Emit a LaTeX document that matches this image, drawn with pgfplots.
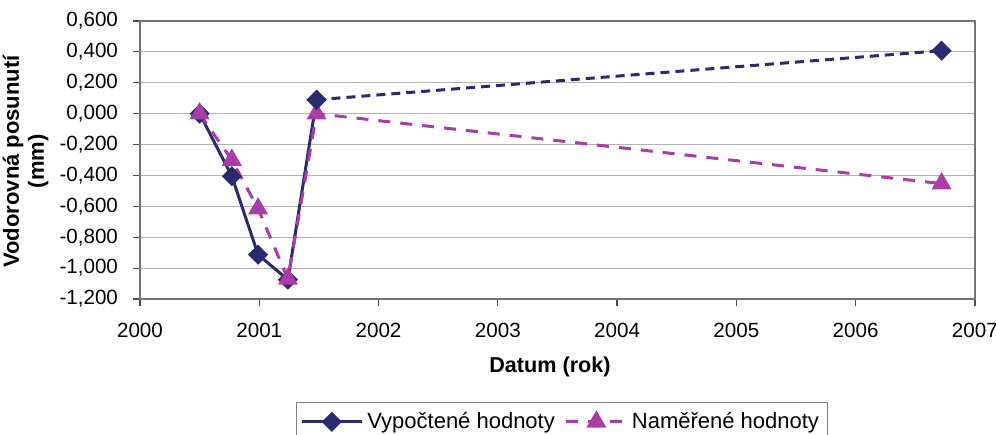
\documentclass[border=0pt]{standalone}
\usepackage{pgfplots}
\pgfplotsset{compat=1.18}
\usepackage{fontspec}
\setmainfont{Liberation Sans}
\definecolor{navyc}{RGB}{42,42,112}
\definecolor{magc}{RGB}{170,60,170}
\begin{document}
\begin{tikzpicture}
\path[use as bounding box] (0pt,0pt) rectangle (498pt,217pt);
\begin{axis}[
  at={(70pt,67.5pt)}, anchor=south west,
  scale only axis, width=417.5pt, height=139pt,
  xmin=2000, xmax=2007, ymin=-1.2, ymax=0.6,
  xtick={2000,...,2007},
  ytick={-1.2,-1.0,-0.8,-0.6,-0.4,-0.2,0,0.2,0.4,0.6},
  ymajorgrids, grid style={gray!60, line width=0.6pt},
  axis line style={black!55, line width=0.6pt},
  tick style={black!70, line width=0.6pt},
  tick align=outside, major tick length=3.5pt,
  xtick pos=bottom, ytick pos=left,
  /pgf/number format/assume math mode=true,
  ticklabel style={font=\fontsize{10.3}{12}\selectfont},
  yticklabel style={/pgf/number format/.cd, fixed, fixed zerofill, precision=3, use comma, /tikz/.cd, xshift=-4pt},
  xticklabel style={/pgf/number format/.cd, set thousands separator={}, precision=0, fixed, /tikz/.cd, yshift=-5pt},
  xlabel={Datum (rok)},
  ylabel={Vodorovná posunutí\\(mm)},
  xlabel style={font=\fontsize{10.8}{12}\selectfont\bfseries, at={(axis description cs:0.491,-0.245)}, anchor=center},
  ylabel style={font=\fontsize{11}{12.5}\selectfont\bfseries, align=center, at={(axis description cs:-0.137,0.495)}, anchor=center},
  legend style={at={(axis description cs:0.505,-0.37)}, anchor=north, legend columns=2, draw=black!50, font=\fontsize{11}{13}\selectfont, inner ysep=3pt, inner xsep=2pt, /tikz/every even column/.append style={column sep=3pt}},
  legend image code/.code={\draw[mark repeat=2,mark phase=2] plot coordinates {(0pt,0pt) (15pt,0pt) (30pt,0pt)};},
  legend cell align=left,
]
\addplot[navyc, line width=1.5pt, mark=square*, mark size=2.8pt, mark options={rotate=45, solid, fill=navyc}]
  coordinates {(2000.5,0.0) (2000.77,-0.405) (2000.99,-0.913) (2001.24,-1.075) (2001.48,0.09)};
\addlegendentry{Vypočtené hodnoty}
\addplot[magc, line width=1.5pt, dash pattern=on 6pt off 5pt, mark=triangle*, mark size=4.3pt, mark options={solid, fill=magc}]
  coordinates {(2000.5,0.0) (2000.77,-0.30) (2000.99,-0.615) (2001.24,-1.07) (2001.48,0.0) (2006.72,-0.453)};
\addlegendentry{Naměřené hodnoty}
\addplot[navyc, line width=1.5pt, dash pattern=on 4.5pt off 3pt, mark=square*, mark size=2.8pt, mark options={rotate=45, solid, fill=navyc}, forget plot]
  coordinates {(2001.48,0.09) (2006.72,0.408)};
\end{axis}
\end{tikzpicture}
\end{document}
